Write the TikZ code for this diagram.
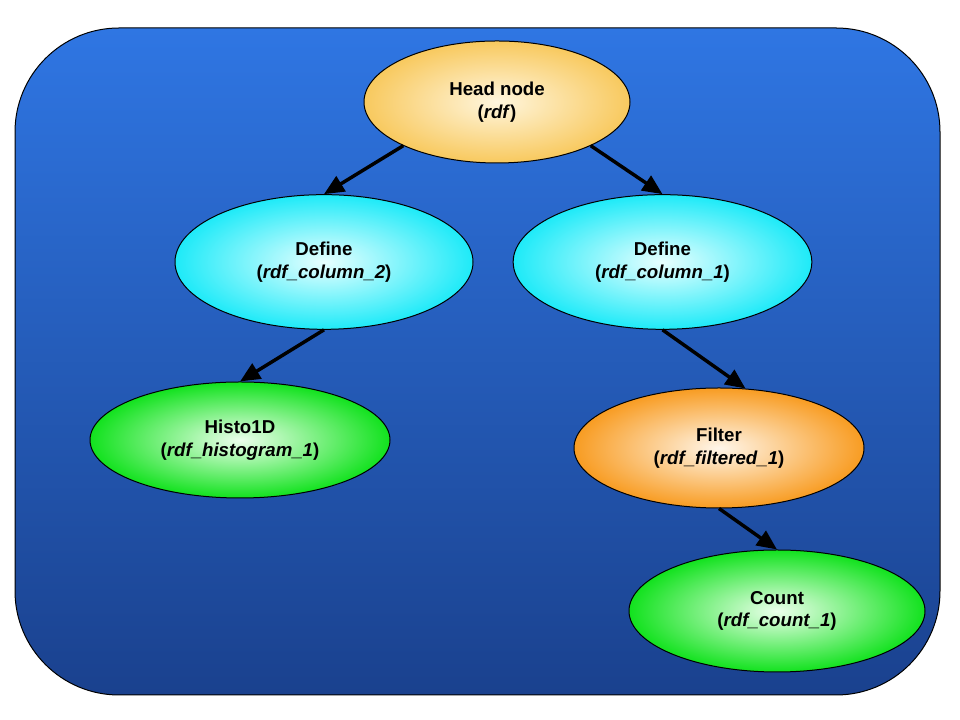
\documentclass[tikz,border=0pt]{standalone}
\usepackage{fontspec}
\setmainfont{Liberation Sans}
\usepackage{tikz}
\usetikzlibrary{shapes.geometric}
\usetikzlibrary{arrows.meta}
\usetikzlibrary{positioning}
\definecolor{PanelTop}{HTML}{2F76E3}
\definecolor{PanelBottom}{HTML}{1A418E}
\definecolor{HeadGold}{HTML}{F8C95E}
\definecolor{HeadCore}{HTML}{FFF6DE}
\definecolor{DefineCyan}{HTML}{1EEAF8}
\definecolor{DefineCore}{HTML}{E8FFFF}
\definecolor{ResultGreen}{HTML}{12E21E}
\definecolor{ResultCore}{HTML}{ECFFEC}
\definecolor{FilterOrange}{HTML}{F89C22}
\definecolor{FilterCore}{HTML}{FFF6EA}

\begin{document}
\begin{tikzpicture}[x=0.75pt, y=0.75pt,
    font=\fontsize{14}{17}\selectfont\bfseries,
    graphnode/.style={shape=ellipse,
      draw=black,
      line width=0.75pt,
      inner sep=0pt,
      align=center},
    headnode/.style={graphnode, inner color=HeadCore, outer color=HeadGold},
    definenode/.style={graphnode, inner color=DefineCore, outer color=DefineCyan},
    resultnode/.style={graphnode, inner color=ResultCore, outer color=ResultGreen},
    filternode/.style={graphnode, inner color=FilterCore, outer color=FilterOrange},
    flow/.style={line width=2.6pt, -{Triangle[length=15pt, width=13pt]}}]

    \path [use as bounding box] (0,0) rectangle (960,720);

    % blue panel behind the graph
    \draw[name=panel, line width=0.75pt, rounded corners=78pt,
      top color=PanelTop, bottom color=PanelBottom]
      (15,25) rectangle (940,692);

    \node[name=head,
      headnode,
      minimum width=199.5pt,
      minimum height=91.5pt] at (497,618) {Head node\\(\textit{rdf})};

    \node[name=coltwo,
      definenode,
      minimum width=223.5pt,
      minimum height=101pt] at (324,458) {Define\\(\textit{rdf\_column\_2})};

    \node[name=colone,
      definenode,
      minimum width=224pt,
      minimum height=101pt] at (662.5,458) {Define\\(\textit{rdf\_column\_1})};

    \node[name=histo,
      resultnode,
      minimum width=225pt,
      minimum height=87pt] at (240,280) {Histo1D\\(\textit{rdf\_histogram\_1})};

    \node[name=filtered,
      filternode,
      minimum width=217.5pt,
      minimum height=90pt] at (719,272) {Filter\\(\textit{rdf\_filtered\_1})};

    \node[name=count,
      resultnode,
      minimum width=222pt,
      minimum height=91.5pt] at (777,109) {Count\\(\textit{rdf\_count\_1})};

    \path (head.205) edge[flow] (coltwo.north);
    \path (head.335) edge[flow] (colone.north);
    \path (coltwo.south) edge[flow] (histo.north);
    \path (colone.south) edge[flow] (filtered.66);
    \path (filtered.south) edge[flow] (count.north);
  \end{tikzpicture}
\end{document}
